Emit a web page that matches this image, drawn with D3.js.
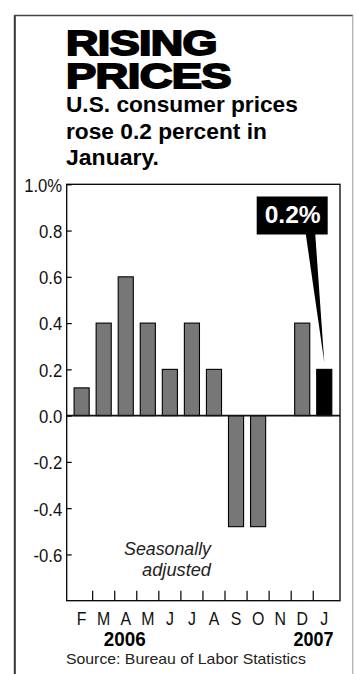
<!DOCTYPE html>
<html>
<head>
<meta charset="utf-8">
<script src="https://cdn.jsdelivr.net/npm/d3@7"></script>
<style>
  body { margin: 0; background: #fff; }
  svg { display: block; }
</style>
</head>
<body>
<div id="chart"></div>
<script>
// CPI monthly change, Feb 2006 - Jan 2007

var periods = ["2006-02", "2006-03", "2006-04", "2006-05", "2006-06", "2006-07",
               "2006-08", "2006-09", "2006-10", "2006-11", "2006-12", "2007-01"];
var monthLabels = ["F", "M", "A", "M", "J", "J", "A", "S", "O", "N", "D", "J"];
var changes = [0.12, 0.4, 0.6, 0.4, 0.2, 0.4, 0.2, -0.48, -0.48, 0, 0.4, 0.2];
var yTicks = [1.0, 0.8, 0.6, 0.4, 0.2, 0.0, -0.2, -0.4, -0.6];
var yearLabels = ["2006", "2007"];

var svgWidth = 356;
var svgHeight = 674;

var plot = { left: 66.7, right: 340, top: 184.3, bottom: 600.7 };

var sans = "'Liberation Sans', Arial, Helvetica, sans-serif";

var svg = d3.select("#chart")
  .append("svg")
  .attr("width", svgWidth)
  .attr("height", svgHeight);

// outer frame
svg.append("line").attr("x1", 14.8).attr("x2", 14.8).attr("y1", 15).attr("y2", svgHeight)
  .attr("stroke", "#333").attr("stroke-width", 2);
svg.append("line").attr("x1", 14).attr("x2", 353).attr("y1", 15.6).attr("y2", 15.6)
  .attr("stroke", "#444").attr("stroke-width", 1.5);
svg.append("line").attr("x1", 352.8).attr("x2", 352.8).attr("y1", 15).attr("y2", svgHeight)
  .attr("stroke", "#999").attr("stroke-width", 1);

// squeeze a text horizontally around its anchor point
function squeeze(node, s) {
  var x = +(node.getAttribute("x") || 0), y = +(node.getAttribute("y") || 0);
  node.setAttribute("transform", "translate(" + x + "," + y + ") scale(" + s + ",1) translate(" + (-x) + "," + (-y) + ")");
}
// squeeze/stretch a text to a given width
function fit(sel, w) {
  squeeze(sel.node(), w / sel.node().getComputedTextLength());
  return sel;
}
function fmt(d) {
  return d3.format(".1f")(d).replace("\u2212", "-");
}

// title
var t1 = svg.append("text").attr("x", 66).attr("y", 55).text("RISING")
  .attr("font-family", sans).attr("font-weight", "bold").attr("font-size", "35px")
  .attr("stroke", "#000").attr("stroke-width", 1.8).attr("letter-spacing", "-0.5px");
fit(t1, 151);
var t2 = svg.append("text").attr("x", 66).attr("y", 88).text("PRICES")
  .attr("font-family", sans).attr("font-weight", "bold").attr("font-size", "35px")
  .attr("stroke", "#000").attr("stroke-width", 1.8).attr("letter-spacing", "-0.5px");
fit(t2, 165);

var subtitle = ["U.S. consumer prices", "rose 0.2 percent in", "January."];
var subW = [232, 201, 93];
svg.append("g").selectAll("text")
  .data(subtitle)
  .enter()
  .append("text")
  .attr("x", 66)
  .attr("y", function(d, i) { return 112.5 + i * 26.5; })
  .text(function(d) { return d; })
  .attr("font-family", sans)
  .attr("font-weight", "bold")
  .attr("font-size", "22px")
  .each(function(d, i) { fit(d3.select(this), subW[i]); });

// scales
var xScale = d3.scaleBand()
  .domain(periods)
  .range([70.6, 335.3])
  .paddingInner(0.27)
  .paddingOuter(0.135);

var yScale = d3.scaleLinear()
  .domain([-0.8, 1.0])
  .range([plot.bottom, plot.top]);

var chartGroup = svg.append("g");

var data = periods.map(function(p, i) {
  return { period: p, value: changes[i], last: i === periods.length - 1 };
});

// bars
chartGroup.append("g")
  .selectAll("rect")
  .data(data.filter(function(d) { return d.value !== 0; }))
  .enter()
  .append("rect")
  .attr("x", function(d) { return xScale(d.period) + 0.5; })
  .attr("width", xScale.bandwidth() - 1)
  .attr("y", function(d) { return yScale(Math.max(0, d.value)); })
  .attr("height", function(d) { return Math.abs(yScale(d.value) - yScale(0)); })
  .attr("fill", function(d) { return d.last ? "#000" : "#777"; })
  .attr("stroke", "#000")
  .attr("stroke-width", 1.1);

// zero line
chartGroup.append("line")
  .attr("x1", plot.left).attr("x2", plot.right)
  .attr("y1", yScale(0)).attr("y2", yScale(0))
  .attr("stroke", "#111").attr("stroke-width", 1.8);

// y axis
var leftAxis = d3.axisLeft(yScale)
  .tickValues(yTicks)
  .tickSize(-5)
  .tickPadding(4.5)
  .tickFormat(function(d) { return d === 1 ? "1.0%" : fmt(d); });

var yAxisG = chartGroup.append("g")
  .attr("transform", "translate(" + plot.left + ",0)")
  .call(leftAxis);
yAxisG.select(".domain").remove();
yAxisG.selectAll("line").attr("stroke", "#000").attr("stroke-width", 1.2);
yAxisG.selectAll("text")
  .attr("font-family", sans)
  .attr("font-size", "19px")
  .attr("fill", "#111")
  .attr("dy", "0.36em")
  .each(function() { squeeze(this, 0.88); });

// x axis labels
var bottomAxis = d3.axisBottom(xScale)
  .tickSize(0)
  .tickPadding(11.5)
  .tickFormat(function(d, i) { return monthLabels[i]; });

var xAxisG = chartGroup.append("g")
  .attr("transform", "translate(0," + plot.bottom + ")")
  .call(bottomAxis);
xAxisG.select(".domain").remove();
xAxisG.selectAll("text")
  .attr("font-family", sans)
  .attr("font-size", "18.5px")
  .attr("fill", "#111")
  .attr("dy", "0.71em")
  .each(function() { squeeze(this, 0.86); });

// boundary ticks between months
chartGroup.append("g")
  .selectAll("line")
  .data(periods.slice(1))
  .enter()
  .append("line")
  .attr("x1", function(d) { return xScale(d) - xScale.step() * xScale.paddingInner() / 2; })
  .attr("x2", function(d) { return xScale(d) - xScale.step() * xScale.paddingInner() / 2; })
  .attr("y1", plot.bottom)
  .attr("y2", plot.bottom - 10)
  .attr("stroke", "#000")
  .attr("stroke-width", 1.2);

// plot frame
chartGroup.append("rect")
  .attr("x", plot.left).attr("y", plot.top)
  .attr("width", plot.right - plot.left).attr("height", plot.bottom - plot.top)
  .attr("fill", "none").attr("stroke", "#000").attr("stroke-width", 1.3);

// years
var y1 = svg.append("text")
  .attr("x", xScale(periods[2]) + xScale.bandwidth() / 2 - 1)
  .attr("y", 646)
  .attr("text-anchor", "middle")
  .text(yearLabels[0])
  .attr("font-family", sans).attr("font-weight", "bold").attr("font-size", "21px");
fit(y1, 42);
var y2 = svg.append("text")
  .attr("x", 333.5)
  .attr("y", 646)
  .attr("text-anchor", "end")
  .text(yearLabels[1])
  .attr("font-family", sans).attr("font-weight", "bold").attr("font-size", "21px");
fit(y2, 40);

// note
var noteW = [87, 69];
svg.append("g").selectAll("text")
  .data(["Seasonally", "adjusted"])
  .enter()
  .append("text")
  .attr("x", 211)
  .attr("y", function(d, i) { return 555 + i * 21.5; })
  .attr("text-anchor", "end")
  .text(function(d) { return d; })
  .attr("font-family", sans)
  .attr("font-style", "italic")
  .attr("font-size", "19px")
  .attr("fill", "#222")
  .each(function(d, i) { fit(d3.select(this), noteW[i]); });

// source
var src = svg.append("text").attr("x", 66).attr("y", 664)
  .text("Source: Bureau of Labor Statistics")
  .attr("font-family", sans).attr("font-size", "15px").attr("fill", "#222");
fit(src, 240);

// callout for the latest value
var last = periods.length - 1;
var tipX = xScale(periods[last]) + xScale.bandwidth() / 2;
var tipY = yScale(changes[last]) - 7;
var box = { x: 256.7, y: 196.5, w: 71, h: 38 };

svg.append("path")
  .attr("d", "M305.7," + (box.y + box.h - 1) + "L315.2," + (box.y + box.h - 1) + "L" + tipX + "," + tipY + "Z")
  .attr("fill", "#000");
svg.append("rect")
  .attr("x", box.x).attr("y", box.y).attr("width", box.w).attr("height", box.h)
  .attr("fill", "#000");
var lbl = svg.append("text")
  .attr("x", box.x + 8).attr("y", box.y + 27)
  .text(fmt(changes[last]) + "%")
  .attr("font-family", sans).attr("font-weight", "bold").attr("font-size", "23px")
  .attr("fill", "#fff");
fit(lbl, 56);
</script>
</body>
</html>
